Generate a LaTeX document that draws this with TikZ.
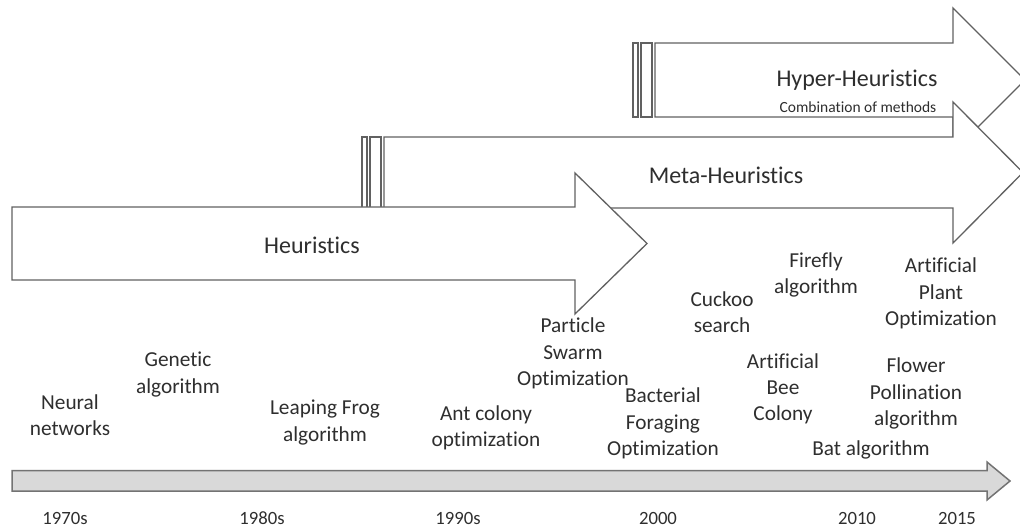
\documentclass[tikz,border=0pt]{standalone}
\usepackage{fontspec}
\setmainfont{Carlito}[Ligatures=NoCommon]
\begin{document}
\begin{tikzpicture}[x=1pt,y=-1pt,
  outline/.style={draw=black!62,line width=1.3pt,fill=white,line join=miter},
  bar/.style={draw=black!55,line width=1.5pt,fill=black!15},
  label/.style={inner sep=0pt,align=center,text=black!82,
    font=\fontsize{21.3}{26.3}\selectfont},
  title/.style={inner sep=0pt,text=black!82,font=\fontsize{24}{28}\selectfont},
  year/.style={inner sep=0pt,text=black!82,font=\fontsize{18.7}{22}\selectfont}]
\useasboundingbox (0,0) rectangle (1020,529);

% Hyper-Heuristics band (drawn first, lies behind the others)
\draw[outline] (655,43) -- (953,43) -- (953,8) -- (1025,80) -- (953,152)
  -- (953,117) -- (655,117) -- cycle;
\draw[outline] (633,43) rectangle (638,117);
\draw[outline] (641,43) rectangle (652,117);

% Meta-Heuristics band
\draw[outline] (384,137) -- (953,137) -- (953,102) -- (1023,172.5) -- (953,243)
  -- (953,208) -- (384,208) -- cycle;
\draw[outline] (362,137) rectangle (367,208);
\draw[outline] (370,137) rectangle (381,208);

% Heuristics band
\draw[outline] (12,207) -- (575,207) -- (575,173) -- (647,243.5) -- (575,314)
  -- (575,280) -- (12,280) -- cycle;

\node[title] (heur) at (312,245) {Heuristics};
\node[title] (meta) at (726,175) {Meta-Heuristics};
\node[title] (hyper) at (857,80) {Hyper-Heuristics};
\node[inner sep=0pt,text=black!82,font=\fontsize{15.5}{18}\selectfont]
  (comb) at (858,107) {Combination of methods};

% Time axis
\draw[bar] (12,470.5) -- (987,470.5) -- (987,462) -- (1010,481) -- (987,500)
  -- (987,491) -- (12,491) -- cycle;

\node[year] (y70) at (65,518) {1970s};
\node[year] (y80) at (262,518) {1980s};
\node[year] (y90) at (458,518) {1990s};
\node[year] (y00) at (658,518) {2000};
\node[year] (y10) at (857,518) {2010};
\node[year] (y15) at (957,518) {2015};

% Algorithms
\node[label] (nn)  at (70,415.5)  {Neural\\networks};
\node[label] (ga)  at (178,374.5) {Genetic\\algorithm};
\node[label] (lf)  at (325,422.5) {Leaping Frog\\algorithm};
\node[label] (aco) at (486,427.5) {Ant colony\\optimization};
\node[label] (pso) at (573,353.5) {Particle\\Swarm\\Optimization};
\node[label] (bfo) at (663,423.5) {Bacterial\\Foraging\\Optimization};
\node[label] (cs)  at (722,312.5) {Cuckoo\\search};
\node[label] (ffa) at (816,275)   {Firefly\\algorithm};
\node[label] (abc) at (783,389)   {Artificial\\Bee\\Colony};
\node[label] (apo) at (941,293.5) {Artificial\\Plant\\Optimization};
\node[label] (fpa) at (916,393.5) {Flower\\Pollination\\algorithm};
\node[label] (bat) at (871,450)   {Bat algorithm};
\end{tikzpicture}
\end{document}
